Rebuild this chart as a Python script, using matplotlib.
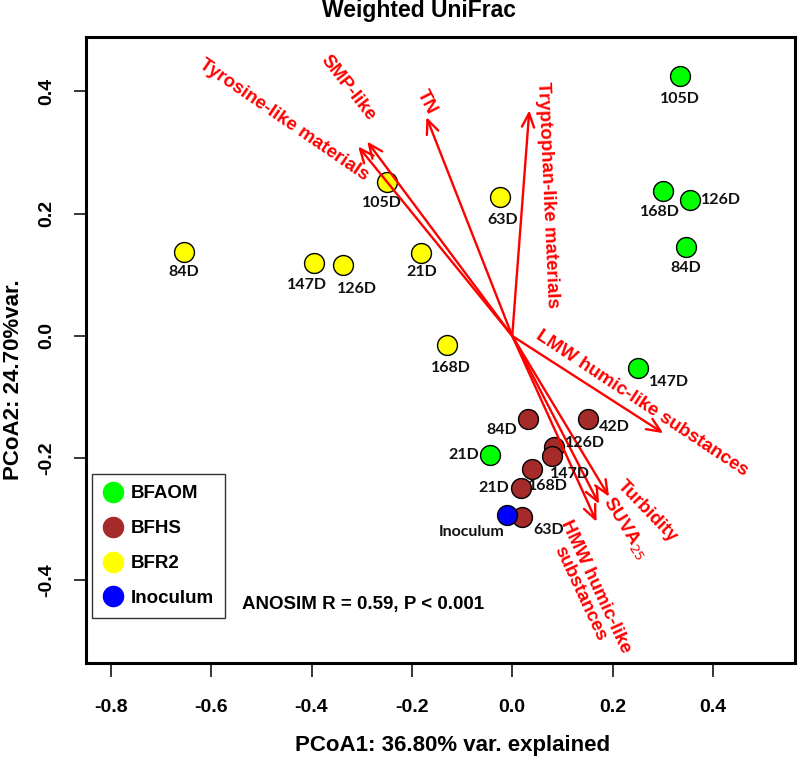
import matplotlib

matplotlib.use('Agg')
import matplotlib.pyplot as plt
from matplotlib.lines import Line2D

# --- datos ---
grupos = ['BFAOM', 'BFHS', 'BFR2', 'Inoculum']
colores = {'BFAOM': '#00FF00', 'BFHS': '#A52A2A', 'BFR2': '#FFFF00', 'Inoculum': '#0000FF'}

bfaom_x = [0.334, 0.300, 0.354, 0.346, 0.251, -0.044]
bfaom_y = [0.426, 0.237, 0.223, 0.145, -0.053, -0.195]
bfaom_lab = ['105D', '168D', '126D', '84D', '147D', '21D']

bfhs_x = [0.031, 0.151, 0.083, 0.0785, 0.040, 0.0167, 0.020]
bfhs_y = [-0.136, -0.136, -0.182, -0.196, -0.218, -0.249, -0.296]
bfhs_lab = ['84D', '42D', '126D', '147D', '168D', '21D', '63D']

bfr2_x = [-0.250, -0.0245, -0.654, -0.395, -0.337, -0.181, -0.130]
bfr2_y = [0.2525, 0.228, 0.138, 0.119, 0.116, 0.135, -0.015]
bfr2_lab = ['105D', '63D', '84D', '147D', '126D', '21D', '168D']

inoc_x = [-0.011]
inoc_y = [-0.293]
inoc_lab = ['Inoculum']

# vectores ambientales (extremo de cada flecha)
vec_nombres = ['Tyrosine-like materials', 'SMP-like', 'TN', 'Tryptophan-like materials',
               'LMW humic-like substances', 'Turbidity', r'SUVA$_{25}$',
               'HMW humic-like\nsubstances']
vec_x = [-0.307, -0.289, -0.171, 0.034, 0.301, 0.193, 0.173, 0.168]
vec_y = [0.310, 0.318, 0.358, 0.369, -0.159, -0.263, -0.275, -0.304]

# --- posiciones de etiquetas (px de desplazamiento respecto al punto) ---
off_bfaom = [(0, 23), (-3, 21), (29, 0), (0, 21), (30, 14), (-25, 0)]
off_bfhs = [(-25, 11), (25, 8), (26, -4), (18, 18), (16, 17), (-24, 0), (26, 13)]
off_bfr2 = [(-5, 21), (3, 23), (0, 20), (-7, 22), (14, 24), (0, 19), (4, 23)]
off_inoc = [(-35, 17)]

# centro y rotacion de los textos de los vectores (coordenadas de datos)
vec_txt_x = [-0.455, -0.3275, -0.170, 0.071, 0.2585, 0.2685, 0.2246, 0.151]
vec_txt_y = [0.3535, 0.406, 0.383, 0.231, -0.111, -0.2865, -0.314, -0.4157]
vec_txt_rot = [-34.5, -52, -63, -87.5, -33.5, -46, -58, -65]

FUENTE = 'Liberation Sans'
FUENTE_LAB = 'Lato'

fig = plt.figure(figsize=(8.0, 7.58), dpi=100)
ax = fig.add_axes([85.7 / 800, 1 - 663 / 758, (795 - 85.7) / 800, (663 - 37) / 758])

series = [
    ('BFAOM', bfaom_x, bfaom_y, bfaom_lab, off_bfaom),
    ('BFHS', bfhs_x, bfhs_y, bfhs_lab, off_bfhs),
    ('BFR2', bfr2_x, bfr2_y, bfr2_lab, off_bfr2),
    ('Inoculum', inoc_x, inoc_y, inoc_lab, off_inoc),
]

for grupo, xs, ys, labs, offs in series:
    ax.scatter(xs, ys, s=205, c=colores[grupo], edgecolors='black', linewidths=1.0, zorder=2)
    for x, y, lab, (dx, dy) in zip(xs, ys, labs, offs):
        ha = 'center'
        if abs(dx) > 20 and abs(dy) < 15:
            ha = 'left' if dx > 0 else 'right'
            dx = 11 if dx > 0 else -11
        ax.annotate(lab, (x, y), xytext=(dx * 0.72, -dy * 0.72), textcoords='offset points',
                    ha=ha, va='center', fontsize=11.5, fontweight='bold',
                    family=FUENTE_LAB, color='#111111', zorder=4)

# flechas
for vx, vy in zip(vec_x, vec_y):
    ax.annotate('', xy=(vx, vy), xytext=(0, 0),
                arrowprops=dict(arrowstyle='->,head_length=0.5,head_width=0.22',
                                color='#FF0000', lw=1.7, shrinkA=0, shrinkB=0,
                                mutation_scale=20),
                zorder=3)

for nombre, tx, ty, rot in zip(vec_nombres, vec_txt_x, vec_txt_y, vec_txt_rot):
    ax.text(tx, ty, nombre, rotation=rot, rotation_mode='anchor', ha='center', va='center',
            multialignment='center', color='#FF0000', fontsize=13.5, fontweight='bold',
            family=FUENTE, linespacing=1.0, zorder=4)

ax.set_xlim(-0.850, 0.5635)
ax.set_ylim(-0.535, 0.489)
ax.set_xticks([-0.8, -0.6, -0.4, -0.2, 0.0, 0.2, 0.4])
ax.set_yticks([-0.4, -0.2, 0.0, 0.2, 0.4])
ax.set_xticklabels(['-0.8', '-0.6', '-0.4', '-0.2', '0.0', '0.2', '0.4'])
ax.set_yticklabels(['-0.4', '-0.2', '0.0', '0.2', '0.4'], rotation=90, va='center')
ax.tick_params(axis='x', length=10, width=1.1, pad=16, labelsize=14)
ax.tick_params(axis='y', length=9, width=1.1, pad=13, labelsize=14)
for t in ax.get_xticklabels() + ax.get_yticklabels():
    t.set_fontweight('bold')
    t.set_family(FUENTE)
for sp in ax.spines.values():
    sp.set_linewidth(2.2)

# leyenda
handles = [Line2D([], [], marker='o', ls='', markersize=14.5,
                  markerfacecolor=colores[g], markeredgecolor=colores[g]) for g in grupos]
leg = ax.legend(handles, grupos, loc='lower left', bbox_to_anchor=(0.0093, 0.0714),
                borderaxespad=0, fancybox=False, frameon=True, handlelength=1.0,
                handletextpad=0.45, labelspacing=0.95, borderpad=0.6,
                prop={'family': FUENTE, 'weight': 'bold', 'size': 13.5})
leg.get_frame().set_edgecolor('black')
leg.get_frame().set_linewidth(1.0)

ax.text(0.2208, 0.0927, 'ANOSIM R = 0.59, P < 0.001', transform=ax.transAxes,
        ha='left', va='center', fontsize=13.5, fontweight='bold', family=FUENTE)

fig.text(419 / 800, 1 - 10 / 758, 'Weighted UniFrac', ha='center', va='center',
         fontsize=16.5, fontweight='bold', family=FUENTE)
fig.text(453 / 800, 1 - 745 / 758, 'PCoA1: 36.80% var. explained', ha='center', va='center',
         fontsize=16, fontweight='bold', family=FUENTE)
fig.text(14 / 800, 1 - 380 / 758, 'PCoA2: 24.70%var.', ha='center', va='center',
         rotation=90, fontsize=16, fontweight='bold', family=FUENTE)

fig.savefig('out.png', dpi=100)
